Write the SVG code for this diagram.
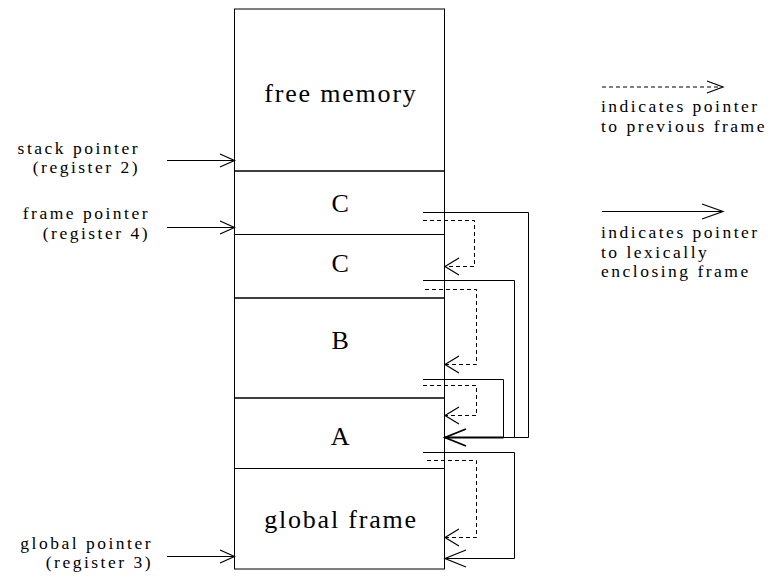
<svg xmlns="http://www.w3.org/2000/svg" width="775" height="582" viewBox="0 0 775 582">
<style>
  .ln { stroke: #000; stroke-width: 1; fill: none; }
  .ds { stroke: #000; stroke-width: 1; fill: none; stroke-dasharray: 4 3; }
  .hd { stroke: #000; stroke-width: 1.2; fill: none; }
  .big { font-family: "Liberation Serif", "Times New Roman", serif; font-size: 26px; letter-spacing: 1.8px; fill: #000; text-anchor: middle; }
  .sm { font-family: "Liberation Serif", "Times New Roman", serif; font-size: 17.5px; letter-spacing: 2.5px; fill: #000; }
  .end { text-anchor: end; }
</style>
<rect width="775" height="582" fill="#fff"/>

<g id="free-memory">
  <rect x="234.5" y="9" width="210" height="162" class="ln"/>
  <text x="341" y="102" class="big">free memory</text>
</g>
<g id="frame-C1">
  <rect x="234.5" y="171" width="210" height="63.5" class="ln"/>
  <text x="341" y="212" class="big">C</text>
</g>
<g id="frame-C2">
  <rect x="234.5" y="234.5" width="210" height="63.5" class="ln"/>
  <text x="341" y="272" class="big">C</text>
</g>
<g id="frame-B">
  <rect x="234.5" y="298" width="210" height="100" class="ln"/>
  <text x="341" y="349" class="big">B</text>
</g>
<g id="frame-A">
  <rect x="234.5" y="398" width="210" height="70.5" class="ln"/>
  <text x="341" y="445" class="big">A</text>
</g>
<g id="global-frame">
  <rect x="234.5" y="468.5" width="210" height="100.5" class="ln"/>
  <text x="341" y="528" class="big">global frame</text>
</g>

<g id="label-stack-pointer">
  <text x="140" y="153.5" class="sm end">stack pointer</text>
  <text x="140" y="173" class="sm end">(register 2)</text>
</g>
<g id="label-frame-pointer">
  <text x="150" y="219" class="sm end">frame pointer</text>
  <text x="150" y="238.5" class="sm end">(register 4)</text>
</g>
<g id="label-global-pointer">
  <text x="153" y="548.5" class="sm end">global pointer</text>
  <text x="153" y="568" class="sm end">(register 3)</text>
</g>

<g id="legend">
  <line x1="602" y1="87" x2="722" y2="87" class="ds"/>
  <polyline points="707,81 723,87 707,93" class="hd"/>
  <text x="601" y="112" class="sm">indicates pointer</text>
  <text x="601" y="131.5" class="sm">to previous frame</text>
  <line x1="602" y1="211.5" x2="722" y2="211.5" class="ln"/>
  <polyline points="702,204 723,211.5 702,219" class="hd"/>
  <text x="601" y="238" class="sm">indicates pointer</text>
  <text x="601" y="257.5" class="sm">to lexically</text>
  <text x="601" y="277" class="sm">enclosing frame</text>
</g>

<g id="connectors">
  <!-- register pointers -->
  <line x1="167" y1="160.5" x2="234" y2="160.5" class="ln"/>
  <polyline points="220,154 234.5,160.5 220,167" class="hd"/>
  <line x1="167" y1="227.5" x2="234" y2="227.5" class="ln"/>
  <polyline points="220,221 234.5,227.5 220,234" class="hd"/>
  <line x1="167" y1="556.5" x2="234" y2="556.5" class="ln"/>
  <polyline points="220,550 234.5,556.5 220,563" class="hd"/>

  <!-- lexical (solid) links -->
  <polyline points="423,212.5 528.5,212.5 528.5,437.5 445,437.5" class="ln"/>
  <polyline points="423,280.5 514.5,280.5 514.5,437.5" class="ln"/>
  <polyline points="423,379.5 503.5,379.5 503.5,437.5" class="ln"/>
  <line x1="445" y1="437.5" x2="503.5" y2="437.5" stroke="#000" stroke-width="1.8"/>
  <polyline points="466,429 445,437.5 466,446" stroke="#000" stroke-width="1.8" fill="none"/>
  <polyline points="423,452.5 514.5,452.5 514.5,558.5 445,558.5" class="ln"/>
  <polyline points="466,550 445,558.5 466,567" class="hd"/>

  <!-- previous-frame (dashed) links -->
  <polyline points="423,220.5 474.5,220.5 474.5,266.5 446,266.5" class="ds"/>
  <polyline points="459,258 445,266.5 459,275" class="hd"/>
  <polyline points="425,289.5 476.5,289.5 476.5,364.5 446,364.5" class="ds"/>
  <polyline points="459,356 445,364.5 459,373" class="hd"/>
  <polyline points="423,385.5 476.5,385.5 476.5,415.5 446,415.5" class="ds"/>
  <polyline points="459,407 445,415.5 459,424" class="hd"/>
  <polyline points="427,460.5 476.5,460.5 476.5,537.5 446,537.5" class="ds"/>
  <polyline points="459,529 445,537.5 459,546" class="hd"/>
</g>
</svg>
